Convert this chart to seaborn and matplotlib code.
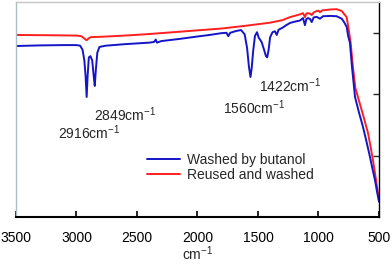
import numpy as np
import seaborn as sns
import matplotlib.pyplot as plt
import pandas as pd

# wavenumber (cm-1) and transmittance-like values
butanol_wn = [3500, 3300, 3100, 3000, 2970, 2950, 2935, 2925, 2916, 2908, 2898, 2885,
              2870, 2858, 2849, 2840, 2828, 2810, 2760, 2600, 2400, 2360, 2345, 2335,
              2300, 2150, 2000, 1900, 1800, 1760, 1745, 1730, 1680, 1640, 1610, 1590,
              1575, 1562, 1552, 1540, 1525, 1508, 1495, 1470, 1450, 1435, 1424, 1412,
              1400, 1380, 1360, 1345, 1330, 1300, 1270, 1236, 1200, 1153, 1128, 1112,
              1100, 1087, 1070, 1056, 1040, 1015, 988, 963, 900, 850, 808, 790, 767,
              755, 740, 723, 698, 665, 632, 600, 574, 550, 533, 515, 500]
butanol_val = [55.7, 55.9, 56.0, 56.0, 55.8, 54.5, 51.0, 46.0, 39.1, 46.0, 52.0, 52.4,
               51.0, 46.0, 42.7, 48.0, 53.5, 55.4, 55.8, 56.3, 56.8, 57.0, 57.8, 56.8,
               57.3, 58.0, 58.8, 59.3, 59.9, 60.0, 58.9, 60.0, 60.6, 60.9, 59.5, 55.0,
               49.0, 45.6, 48.5, 54.0, 59.0, 60.2, 58.5, 57.0, 54.5, 52.5, 52.0, 54.5,
               58.5, 60.2, 60.5, 59.3, 61.0, 61.6, 62.4, 63.2, 63.6, 64.0, 64.8, 62.5,
               64.5, 64.8, 64.5, 63.5, 65.0, 65.2, 64.6, 65.4, 65.5, 65.4, 64.6, 63.6, 61.9,
               59.0, 56.7, 48.8, 39.1, 34.0, 29.3, 24.0, 19.5, 15.0, 12.0, 8.0, 5.0]

reused_wn = [3500, 3200, 3000, 2960, 2940, 2925, 2915, 2900, 2880, 2800, 2600, 2400,
             2200, 2000, 1800, 1600, 1401, 1300, 1236, 1153, 1128, 1112, 1100, 1087,
             1070, 1056, 1040, 1015, 1000, 988, 970, 900, 850, 808, 767, 750, 735, 715,
             695, 674, 630, 591, 570, 550, 530, 508, 500]
reused_val = [59.3, 59.2, 59.1, 58.9, 58.3, 57.8, 57.6, 58.2, 58.6, 58.7, 59.1, 59.6,
              60.2, 60.8, 61.4, 62.3, 63.3, 64.1, 65.1, 66.0, 66.4, 65.1, 66.3, 66.4,
              66.2, 65.8, 66.6, 67.1, 67.2, 66.7, 67.3, 67.6, 67.7, 67.1, 65.1, 61.0,
              57.0, 48.8, 42.0, 39.1, 33.0, 27.4, 23.0, 18.6, 13.5, 7.8, 6.0]

peak_labels = ["2916", "2849", "1560", "1422"]
peak_text_pos = [(3153, 27.4), (2855, 33.2), (1789, 35.5), (1492, 42.7)]

blue = "#1414c8"
red = "#ff1f1f"

sns.set_style("ticks")
plt.rcParams['font.family'] = ['Liberation Sans', 'DejaVu Sans']
plt.rcParams['mathtext.default'] = 'regular'

fig = plt.figure(figsize=(3.92, 2.64), dpi=100)
ax = fig.add_axes([0.0408, 0.178, 0.926, 0.814])

df_b = pd.DataFrame({"wn": butanol_wn, "val": butanol_val})
df_r = pd.DataFrame({"wn": reused_wn, "val": reused_val})
sns.lineplot(data=df_r, x="wn", y="val", color=red, lw=1.4, estimator=None,
             label="Reused and washed", ax=ax)
sns.lineplot(data=df_b, x="wn", y="val", color=blue, lw=1.4, estimator=None,
             label="Washed by butanol", ax=ax)

ax.set_xlim(3500, 500)
ax.set_ylim(0, 70)
ax.set_xticks([3500, 3000, 2500, 2000, 1500, 1000, 500])
ax.set_yticks([20, 40, 60])
ax.yaxis.tick_right()
ax.tick_params(axis='y', direction='in', length=4, width=1, labelright=False)
ax.tick_params(axis='x', direction='in', length=4, width=1.2, labelsize=10, pad=10,
               colors='black')
ax.set_ylabel("")
ax.set_xlabel("cm$^{-1}$", fontsize=10, labelpad=0)

ax.spines['left'].set_color('#a9bec6')
ax.spines['left'].set_linewidth(1)
ax.spines['top'].set_color('#c4c4c4')
ax.spines['top'].set_linewidth(1)
ax.spines['bottom'].set_color('black')
ax.spines['bottom'].set_linewidth(1.5)
ax.spines['right'].set_color('black')
ax.spines['right'].set_linewidth(1)

for lab, (tx, ty) in zip(peak_labels, peak_text_pos):
    ax.text(tx, ty, lab + "cm$^{-1}$", ha='left', va='center', fontsize=10)

handles, labels = ax.get_legend_handles_labels()
ax.legend(handles[::-1], labels[::-1], loc='center left', bbox_to_anchor=(0.361, 0.23),
          frameon=False, fontsize=10, handlelength=2.4, handletextpad=0.45,
          labelspacing=0.1, borderpad=0, borderaxespad=0)

fig.savefig("out.png", dpi=100)
